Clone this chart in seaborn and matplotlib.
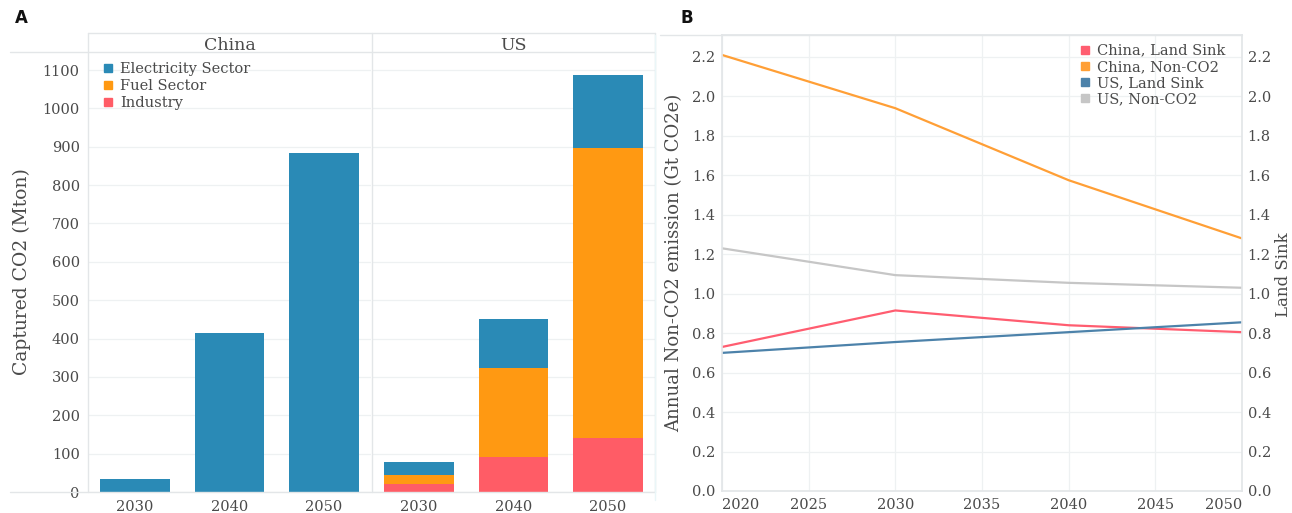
import numpy as np
import pandas as pd
import matplotlib
matplotlib.use("Agg")
import matplotlib.pyplot as plt
import seaborn as sns
from matplotlib.lines import Line2D

# ---- Panel A: captured CO2 by sector (Mton) ----
bar_years = ["2030", "2040", "2050"]
sectors = ["Electricity Sector", "Fuel Sector", "Industry"]
countries = ["China", "US"]
china_electricity = [35, 414, 883]
china_fuel = [0, 0, 0]
china_industry = [0, 0, 0]
us_electricity = [34, 127, 190]
us_fuel = [22, 232, 757]
us_industry = [22, 91, 141]
bar_yticks = [0, 100, 200, 300, 400, 500, 600, 700, 800, 900, 1000, 1100]

# ---- Panel B: non-CO2 emissions and land sink (Gt CO2e) ----
line_years = [2020, 2030, 2040, 2050]
series_names = ["China, Land Sink", "China, Non-CO2", "US, Land Sink", "US, Non-CO2"]
china_land_sink = [0.73, 0.915, 0.84, 0.805]
china_non_co2 = [2.21, 1.94, 1.575, 1.28]
us_land_sink = [0.70, 0.755, 0.805, 0.855]
us_non_co2 = [1.23, 1.094, 1.055, 1.03]
line_xticks = [2020, 2025, 2030, 2035, 2040, 2045, 2050]
line_yticks = [0.0, 0.2, 0.4, 0.6, 0.8, 1.0, 1.2, 1.4, 1.6, 1.8, 2.0, 2.2]

sector_colors = {"Electricity Sector": "#2a8ab6", "Fuel Sector": "#ff9912",
                 "Industry": "#ff5c66"}
series_colors = {"China, Land Sink": "#ff5d70", "China, Non-CO2": "#ff9f36",
                 "US, Land Sink": "#4c82aa", "US, Non-CO2": "#c6c6c6"}

sns.set_theme(style="white")
plt.rcParams["font.family"] = ["DejaVu Serif", "DejaVu Sans"]
TEXT = "#4a4a4a"
GRID = "#eef1f2"
FRAME = "#e3e6e8"

W, H = 1292, 513
fig = plt.figure(figsize=(W / 100, H / 100), dpi=100)


def box(x0, y0, x1, y1):
    return [x0 / W, 1 - y1 / H, (x1 - x0) / W, (y1 - y0) / H]


def hline(y, x0, x1, color=FRAME, lw=1.0):
    fig.add_artist(Line2D([x0 / W, x1 / W], [1 - y / H, 1 - y / H],
                          color=color, lw=lw, transform=fig.transFigure))


def vline(x, y0, y1, color=FRAME, lw=1.0):
    fig.add_artist(Line2D([x / W, x / W], [1 - y0 / H, 1 - y1 / H],
                          color=color, lw=lw, transform=fig.transFigure))


# long table of bar values, stacked bottom-up: Industry, Fuel, Electricity
values = {
    "China": {"Electricity Sector": china_electricity, "Fuel Sector": china_fuel,
              "Industry": china_industry},
    "US": {"Electricity Sector": us_electricity, "Fuel Sector": us_fuel,
           "Industry": us_industry},
}
rows = []
for c in countries:
    for i, yr in enumerate(bar_years):
        ind = values[c]["Industry"][i]
        fuel = values[c]["Fuel Sector"][i]
        elec = values[c]["Electricity Sector"][i]
        rows.append((c, yr, "Industry", ind))
        rows.append((c, yr, "Fuel Sector", ind + fuel))
        rows.append((c, yr, "Electricity Sector", ind + fuel + elec))
bars = pd.DataFrame(rows, columns=["country", "year", "sector", "top"])

ax_boxes = {"China": box(88, 52, 371, 492), "US": box(372, 52, 655, 492)}
bar_axes = {}
for c in countries:
    ax = fig.add_axes(ax_boxes[c])
    bar_axes[c] = ax
    sub = bars[bars.country == c]
    for s in sectors:  # tallest layer first so the lower layers sit on top
        sns.barplot(data=sub[sub.sector == s], x="year", y="top", order=bar_years,
                    color=sector_colors[s], saturation=1, width=0.74,
                    errorbar=None, linewidth=0, ax=ax)
    ax.set_ylim(0, 1147)
    ax.set_yticks(bar_yticks)
    ax.yaxis.grid(True, color=GRID, lw=0.9)
    ax.set_axisbelow(True)
    for sp in ax.spines.values():
        sp.set_visible(False)
    ax.set_xlabel("")
    ax.tick_params(length=0, labelsize=10.5, labelcolor=TEXT, pad=6)
    ax.set_title(c, fontsize=12.5, color=TEXT, pad=1.5)
    if c == "China":
        ax.set_ylabel("Captured CO2 (Mton)", fontsize=13.5, color=TEXT, labelpad=8)
    else:
        ax.set_ylabel("")
        ax.set_yticklabels([])

bar_handles = [Line2D([], [], marker="s", ls="", ms=5.5, color=sector_colors[s])
               for s in sectors]
bar_axes["China"].legend(bar_handles, sectors, loc="upper left",
                         bbox_to_anchor=(0.01, 1.0), frameon=False, fontsize=10.5,
                         handletextpad=0.3, labelspacing=0.2, handlelength=1.0,
                         labelcolor=TEXT, borderaxespad=0.3)

# frame lines around the facet strips
hline(33, 88, 655)
hline(52, 10, 655)
hline(492, 10, 655)
for x in (88, 372, 655):
    vline(x, 33, 492)

# ---- Panel B ----
line_vals = {"China, Land Sink": china_land_sink, "China, Non-CO2": china_non_co2,
             "US, Land Sink": us_land_sink, "US, Non-CO2": us_non_co2}
lines = pd.DataFrame([(n, yr, v) for n in series_names
                      for yr, v in zip(line_years, line_vals[n])],
                     columns=["series", "year", "value"])

axB = fig.add_axes(box(722, 35, 1242, 491))
sns.lineplot(data=lines, x="year", y="value", hue="series", hue_order=series_names,
             palette=series_colors, linewidth=1.6, legend=False, ax=axB)
axB.set_xlim(2020, 2050)
axB.set_ylim(0, 2.311)
axB.set_xticks(line_xticks)
axB.set_yticks(line_yticks)
axB.set_yticklabels([f"{v:.1f}" for v in line_yticks])
axB.grid(True, color=GRID, lw=0.9)
for sp in axB.spines.values():
    sp.set_color(FRAME)
axB.tick_params(length=0, labelsize=10.5, labelcolor=TEXT, pad=5)
xt = axB.get_xticklabels()
xt[0].set_ha("left")
xt[-1].set_ha("right")
axB.set_xlabel("")
axB.set_ylabel("Annual Non-CO2 emission (Gt CO2e)", fontsize=13, color=TEXT,
               labelpad=6)

axR = axB.twinx()
axR.set_ylim(axB.get_ylim())
axR.set_yticks(line_yticks)
axR.set_yticklabels([f"{v:.1f}" for v in line_yticks])
axR.tick_params(length=0, labelsize=10.5, labelcolor=TEXT, pad=4)
for sp in axR.spines.values():
    sp.set_visible(False)
axR.grid(False)
fig.text(1284 / W, 1 - 275 / H, "Land Sink", rotation=90, fontsize=12, color=TEXT,
         ha="center", va="center")

line_handles = [Line2D([], [], marker="s", ls="", ms=5.5, color=series_colors[n])
                for n in series_names]
axB.legend(line_handles, series_names, loc="upper right",
           bbox_to_anchor=(0.985, 1.0), frameon=False, fontsize=10.5,
           handletextpad=0.3, labelspacing=0.15, handlelength=1.0,
           labelcolor=TEXT, borderaxespad=0.2)

hline(35, 660, 1242)
vline(655, 35, 500, color="#eaf6f8")

# panel letters
fig.text(15 / W, 1 - 18 / H, "A", fontsize=12, fontweight="bold",
         family="DejaVu Sans", va="center", color="#111111")
fig.text(680 / W, 1 - 18 / H, "B", fontsize=12, fontweight="bold",
         family="DejaVu Sans", va="center", color="#111111")

fig.savefig("out.png", dpi=100, facecolor="white")
